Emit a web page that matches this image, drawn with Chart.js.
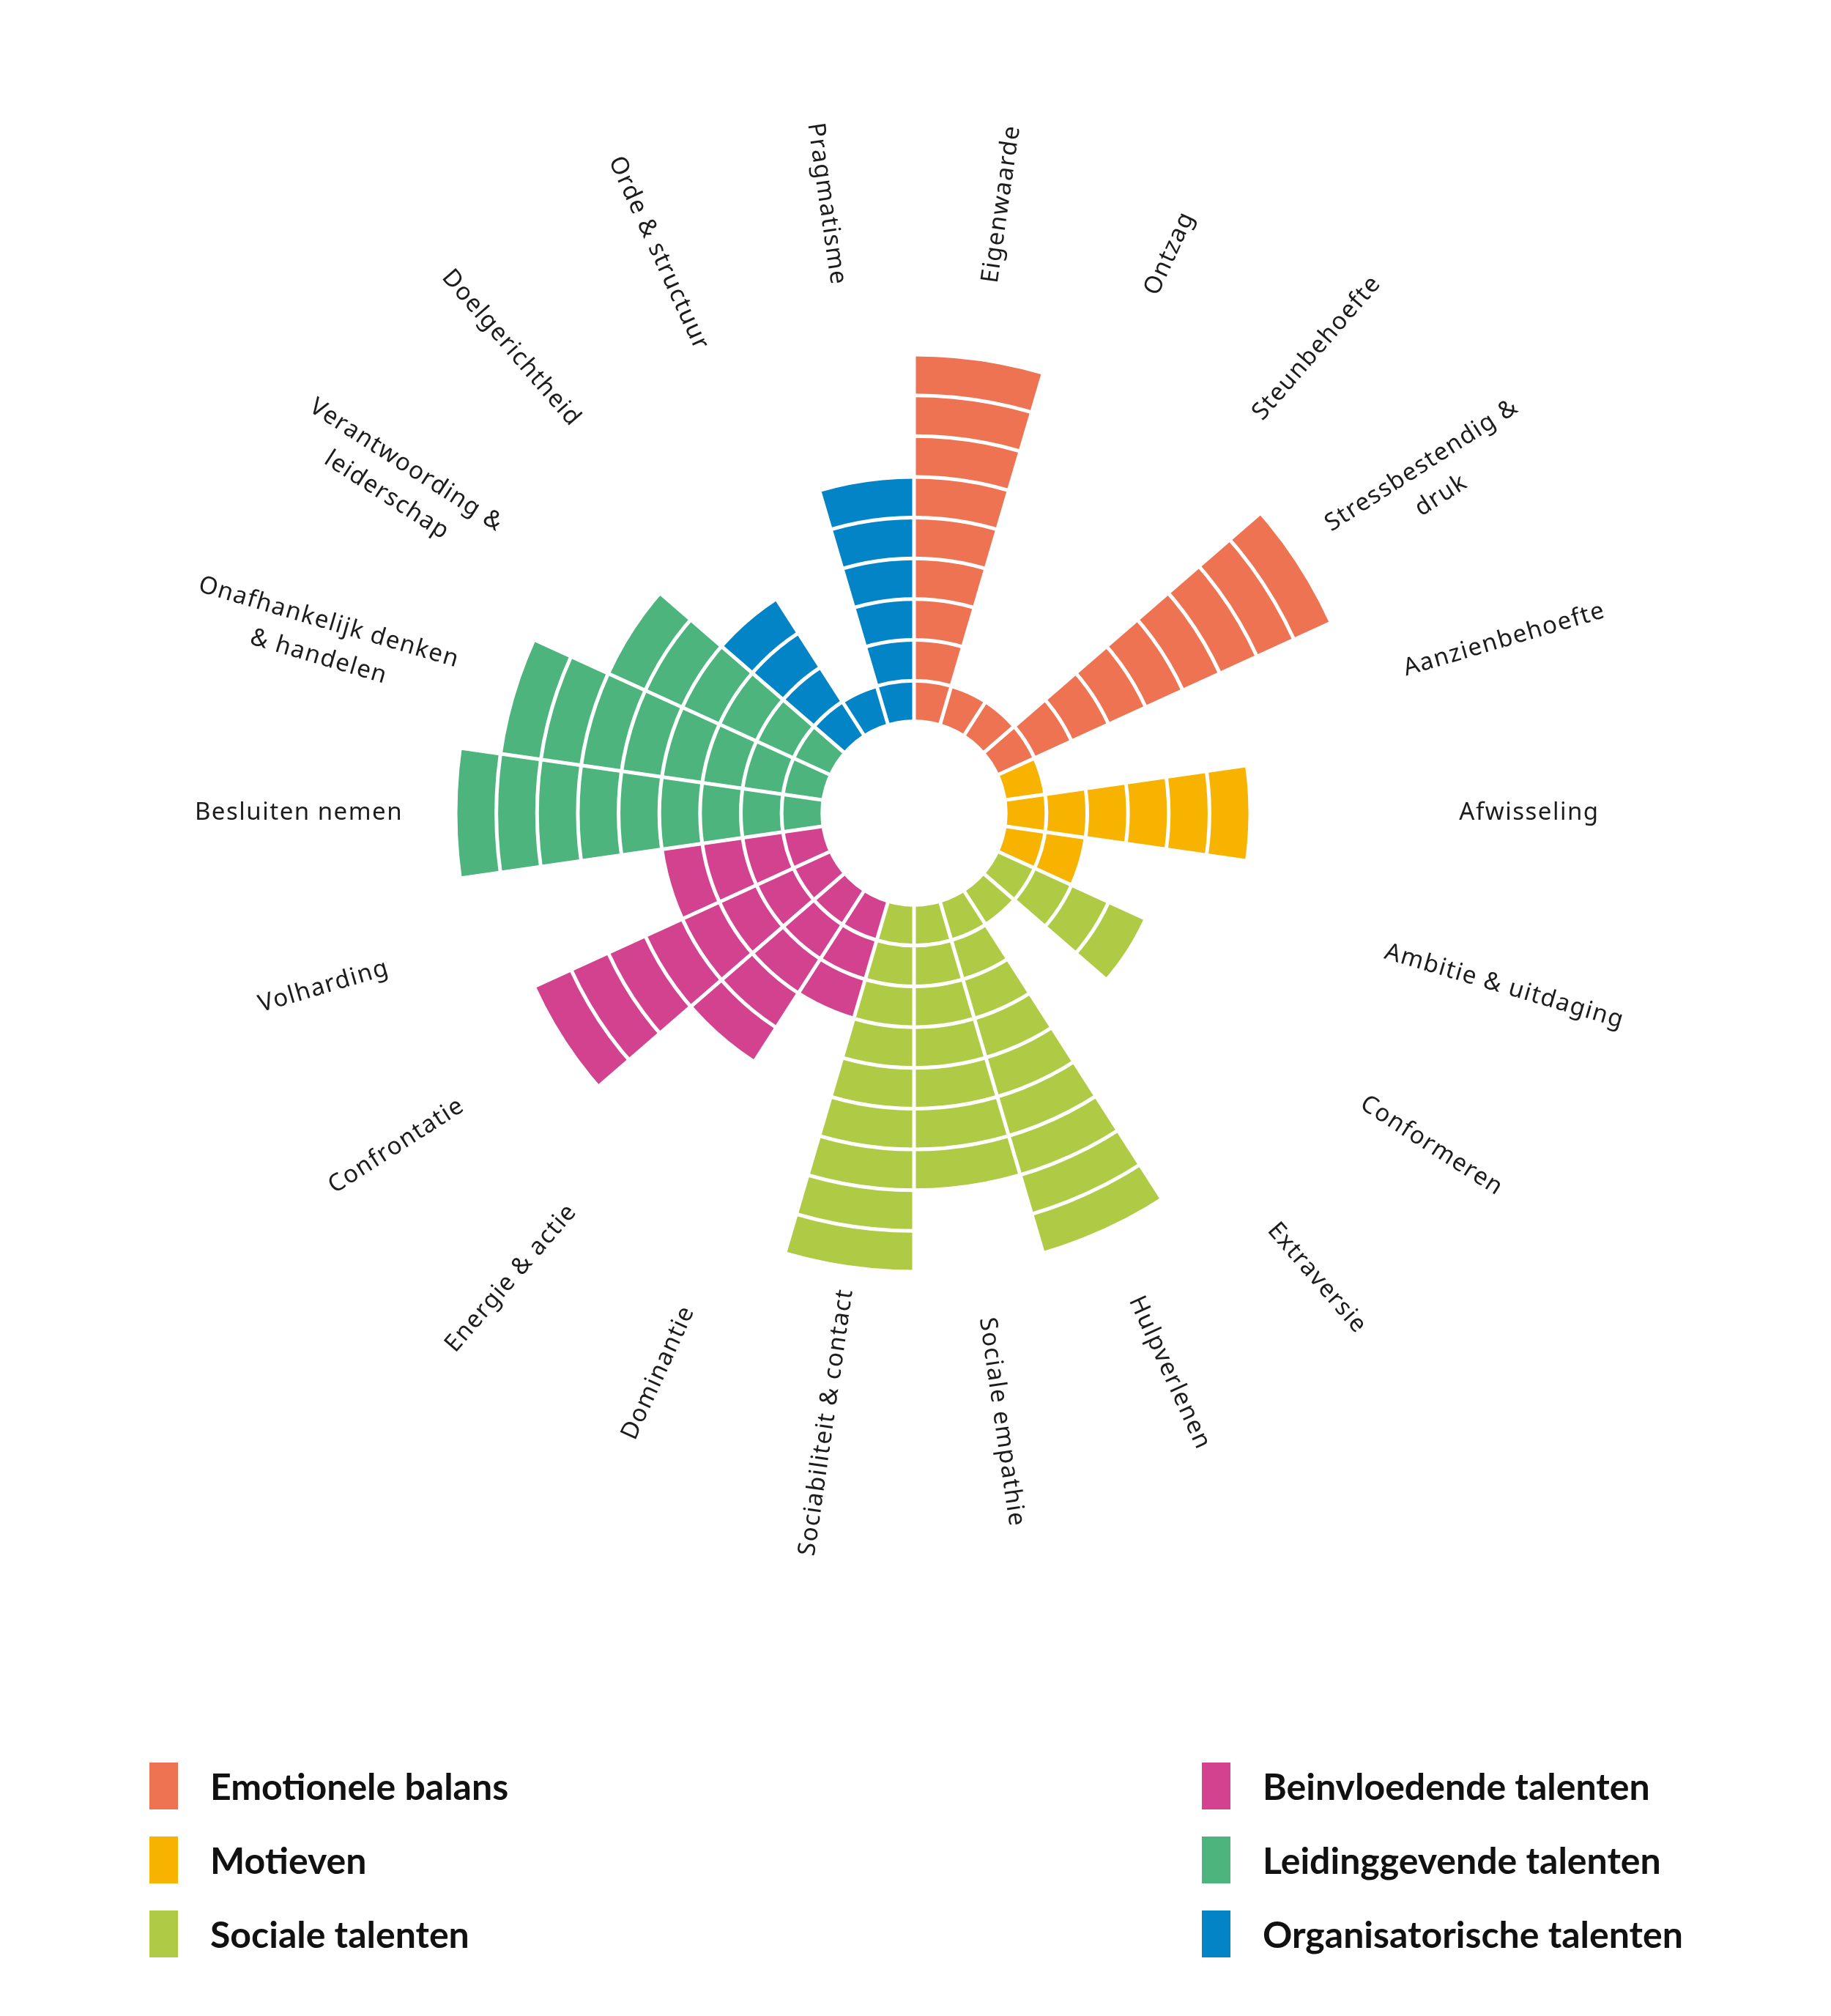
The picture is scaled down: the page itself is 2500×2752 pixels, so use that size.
<!DOCTYPE html>
<html>
  <head>
    <meta charset="UTF-8" />
    <title>Talentenprofiel</title>
    <style>
      html, body { margin: 0; padding: 0; background: #ffffff; }
      #wrap { position: absolute; left: 0; top: 0; width: 2500px; height: 2752px; }
      #legend { position: absolute; left: 0; top: 0; font-family: Lato, "Noto Sans", sans-serif; font-weight: 700; font-size: 50px; color: #111111; }
      .item { position: absolute; height: 64px; display: flex; align-items: center; white-space: nowrap; }
      .swatch { width: 39px; height: 64px; margin-right: 44px; flex: none; }
    </style>
  </head>
  <body>
    <div id="wrap"><canvas id="chart"></canvas></div>
    <div id="legend"></div>
    <script src="https://cdn.jsdelivr.net/npm/chart.js"></script>
    <script>
      // categories, clockwise from the top ("\n" = line break in the label)
      const categories = [
        'Eigenwaarde', 'Ontzag', 'Steunbehoefte', 'Stressbestendig &\ndruk',
        'Aanzienbehoefte', 'Afwisseling', 'Ambitie & uitdaging',
        'Conformeren', 'Extraversie', 'Hulpverlenen', 'Sociale empathie', 'Sociabiliteit & contact',
        'Dominantie', 'Energie & actie', 'Confrontatie', 'Volharding',
        'Besluiten nemen', 'Onafhankelijk denken\n& handelen', 'Verantwoording &\nleiderschap',
        'Doelgerichtheid', 'Orde & structuur', 'Pragmatisme'
      ];
      // score per category (number of blocks)
      const scores = [9, 1, 1, 9, 1, 6, 2, 4, 1, 9, 7, 9, 3, 5, 8, 4, 9, 8, 6, 4, 1, 6];
      // group index per category
      const groupOf = [0, 0, 0, 0, 1, 1, 1, 2, 2, 2, 2, 2, 3, 3, 3, 3, 4, 4, 4, 5, 5, 5];

      const groupNames = [
        'Emotionele balans', 'Motieven', 'Sociale talenten',
        'Beinvloedende talenten', 'Leidinggevende talenten', 'Organisatorische talenten'
      ];
      const groupColors = ['#EE7353', '#F8B300', '#AFCB45', '#D2428E', '#4DB47E', '#0284C6'];

      const maxScore = 9;
      const holeUnits = 2.25;   // empty centre, in blocks

      // layout (px)
      const cx = 1248, cy = 1110, radius = 626;
      const labelRadius = 840;
      const labelLine = 49;

      // white centre disk, drawn under the white grid
      const holePlugin = {
        id: 'hole',
        afterDatasetsDraw(chart) {
          const s = chart.scales.r;
          const ctx = chart.ctx;
          ctx.save();
          ctx.fillStyle = '#ffffff';
          ctx.beginPath();
          ctx.arc(s.xCenter, s.yCenter, s.getDistanceFromCenterForValue(0), 0, Math.PI * 2);
          ctx.fill();
          ctx.restore();
        }
      };

      // rotated category labels around the chart
      const labelPlugin = {
        id: 'sectorLabels',
        afterDraw(chart) {
          const s = chart.scales.r;
          const ctx = chart.ctx;
          const arcs = chart.getDatasetMeta(0).data;
          ctx.save();
          ctx.font = '33px "Noto Sans"';
          ctx.fillStyle = '#1c1c1c';
          ctx.textAlign = 'center';
          ctx.textBaseline = 'middle';
          ctx.letterSpacing = '1.5px';
          arcs.forEach((arc, i) => {
            const mid = (arc.startAngle + arc.endAngle) / 2;
            const x = s.xCenter + labelRadius * Math.cos(mid);
            const y = s.yCenter + labelRadius * Math.sin(mid);
            let fromTop = mid + Math.PI / 2;
            fromTop = ((fromTop % (2 * Math.PI)) + 2 * Math.PI) % (2 * Math.PI);
            const rot = fromTop < Math.PI ? mid : mid + Math.PI;
            const lines = categories[i].split('\n');
            ctx.save();
            ctx.translate(x, y);
            ctx.rotate(rot);
            lines.forEach((ln, j) => {
              ctx.fillText(ln, 0, (j - (lines.length - 1) / 2) * labelLine);
            });
            ctx.restore();
          });
          ctx.restore();
        }
      };

      const ctx = document.getElementById('chart').getContext('2d');
      const chart = new Chart(ctx, {
        type: 'polarArea',
        data: {
          labels: categories,
          datasets: [{
            label: 'Score',
            data: scores,
            backgroundColor: scores.map((v, i) => groupColors[groupOf[i]]),
            borderWidth: 0,
          }],
        },
        options: {
          responsive: true,
          maintainAspectRatio: false,
          animation: false,
          devicePixelRatio: 1,
          events: [],
          layout: {
            padding: {
              left: cx - radius,
              right: 2500 - cx - radius,
              top: cy - radius,
              bottom: 2752 - cy - radius,
            },
          },
          scales: {
            r: {
              min: -holeUnits,
              max: maxScore,
              startAngle: 0,
              ticks: { display: false, stepSize: 1 },
              pointLabels: { display: false },
              grid: { display: true, circular: true, color: '#ffffff', lineWidth: 5, z: 1 },
              angleLines: { display: true, color: '#ffffff', lineWidth: 5 },
            },
          },
          plugins: {
            legend: { display: false },
            tooltip: { enabled: false },
          },
        },
        plugins: [holePlugin, labelPlugin],
      });

      // legend: two columns of three
      const legend = document.getElementById('legend');
      const colX = [204, 1641];
      const rowY = [2406, 2507, 2608];
      groupNames.forEach((name, g) => {
        const item = document.createElement('div');
        item.className = 'item';
        item.style.left = colX[Math.floor(g / 3)] + 'px';
        item.style.top = rowY[g % 3] + 'px';
        const sw = document.createElement('div');
        sw.className = 'swatch';
        sw.style.background = groupColors[g];
        const txt = document.createElement('span');
        txt.textContent = name;
        item.appendChild(sw);
        item.appendChild(txt);
        legend.appendChild(item);
      });
    </script>
  </body>
</html>
